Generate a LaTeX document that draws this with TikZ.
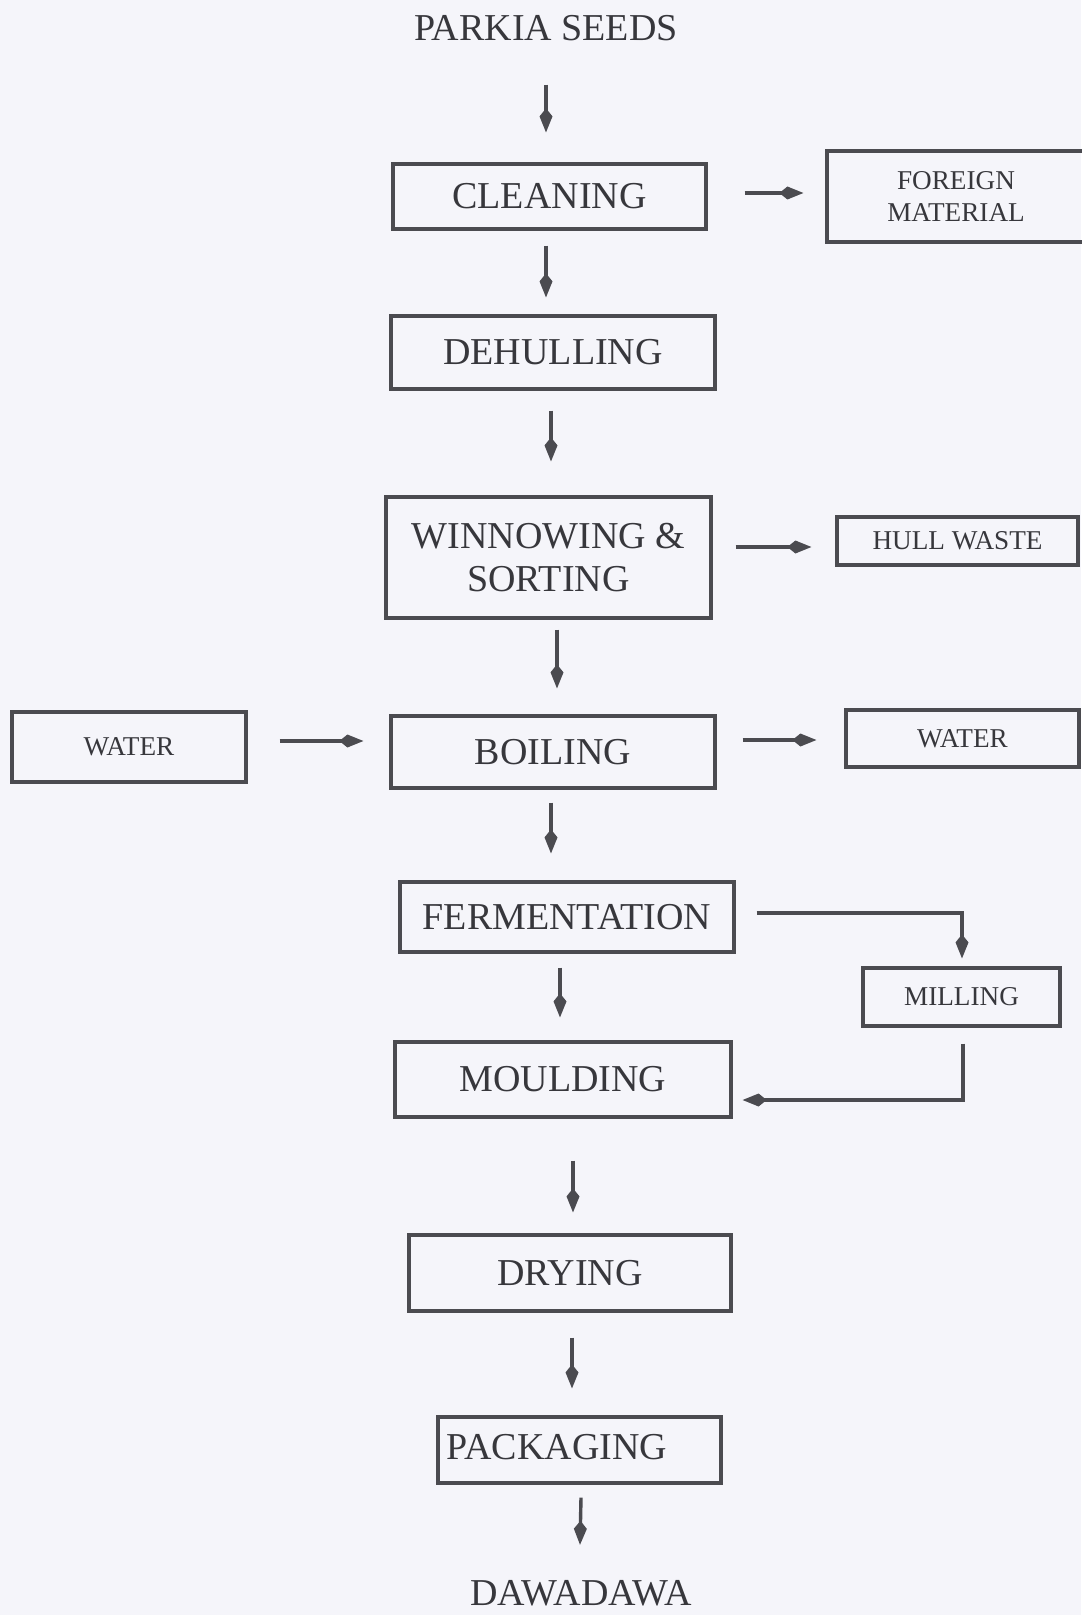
\documentclass[tikz,border=0pt]{standalone}
\usepackage{fontspec}
\setmainfont{Liberation Serif}
\usetikzlibrary{arrows.meta,calc}
\definecolor{bg}{RGB}{245,245,250}
\definecolor{ink}{RGB}{55,55,60}
\definecolor{ln}{RGB}{75,75,80}
\begin{document}
\begin{tikzpicture}[x=0.5pt,y=-0.5pt,
  box/.style={draw=ln, line width=1.6pt, text=ink, font=\fontsize{19}{21.5}\selectfont, inner sep=0pt, align=center},
  sbox/.style={box, font=\fontsize{13.6}{16}\selectfont},
  lbl/.style={text=ink, font=\fontsize{19}{21.5}\selectfont, inner sep=0pt},
  arr/.style={draw=ln, line width=1.7pt, -{Kite[length=12pt,width=6.5pt,inset=4pt]}}]
\useasboundingbox (0,0) rectangle (1081,1615);
\fill[bg] (0,0) rectangle (1081,1615);

% nodes
\node[lbl] (seeds) at (546,28) {PARKIA SEEDS};
\node[box, minimum width=156.5pt, minimum height=32.5pt] (clean) at (549.5,196.5) {CLEANING};
\node[sbox, minimum width=129pt, minimum height=45.5pt] (foreign) at (956,196.5) {FOREIGN\\MATERIAL};
\node[box, minimum width=162pt, minimum height=36.5pt] (dehull) at (553,352.5) {DEHULLING};
\node[box, minimum width=162.5pt, minimum height=60.5pt] (winnow) at (548.5,557.5) {WINNOWING \&\\SORTING};
\node[sbox, minimum width=120.5pt, minimum height=24pt] (hull) at (957.5,541) {HULL WASTE};
\node[sbox, minimum width=117pt, minimum height=35pt] (waterL) at (129,747) {WATER};
\node[box, minimum width=162pt, minimum height=36pt] (boil) at (553,752) {BOILING};
\node[sbox, minimum width=116.5pt, minimum height=28.5pt] (waterR) at (962.5,738.5) {WATER};
\node[box, minimum width=167pt, minimum height=35pt] (ferm) at (567,917) {FERMENTATION};
\node[sbox, minimum width=98.5pt, minimum height=29pt] (mill) at (961.5,997) {MILLING};
\node[box, minimum width=168pt, minimum height=37.5pt] (mould) at (563,1079.5) {MOULDING};
\node[box, minimum width=161pt, minimum height=38pt] (dry) at (570,1273) {DRYING};
\node[box, minimum width=141.5pt, minimum height=33pt] (pack) at (579.5,1450) {};
\node[lbl] (packtxt) at (557,1447) {PACKAGING};
\node[lbl] (dawa) at (581,1593) {DAWADAWA};

% connectors
\draw[arr] ($(seeds.south)+(0,43.5)$) -- ($(clean.north)+(-3.5,-30)$);
\draw[arr] ($(clean.east)+(37,-3.5)$) -- ($(foreign.west)+(-22,-3.5)$);
\draw[arr] ($(clean.south)+(-3.5,15)$) -- ($(dehull.north)+(-7,-17)$);
\draw[arr] ($(dehull.south)+(-2,20)$) -- ($(winnow.north)+(2.5,-34)$);
\draw[arr] ($(winnow.east)+(23,-10.5)$) -- ($(hull.west)+(-24,6)$);
\draw[arr] ($(winnow.south)+(8.5,10)$) -- ($(boil.north)+(4,-26)$);
\draw[arr] ($(waterL.east)+(32,-6)$) -- ($(boil.west)+(-26,-11)$);
\draw[arr] ($(boil.east)+(26,-12)$) -- ($(waterR.west)+(-28,1.5)$);
\draw[arr] ($(boil.south)+(-2,13)$) -- ($(ferm.north)+(-16,-27)$);
\draw[arr] ($(ferm.east)+(21,-4)$) -| ($(mill.north)+(0.5,-8)$);
\draw[arr] ($(ferm.south)+(-7,14)$) -- ($(mould.north)+(-3,-23)$);
\draw[arr] ($(mill.south)+(1.5,16)$) |- ($(mould.east)+(10,20.5)$);
\draw[arr] ($(mould.south)+(10,42)$) -- ($(dry.north)+(3,-21)$);
\draw[arr] ($(dry.south)+(2,25)$) -- ($(pack.north)+(-7.5,-27)$);
\draw[arr] ($(pack.south)+(1.5,13)$) -- ($(dawa.north)+(-1,-35)$);
\end{tikzpicture}
\end{document}
